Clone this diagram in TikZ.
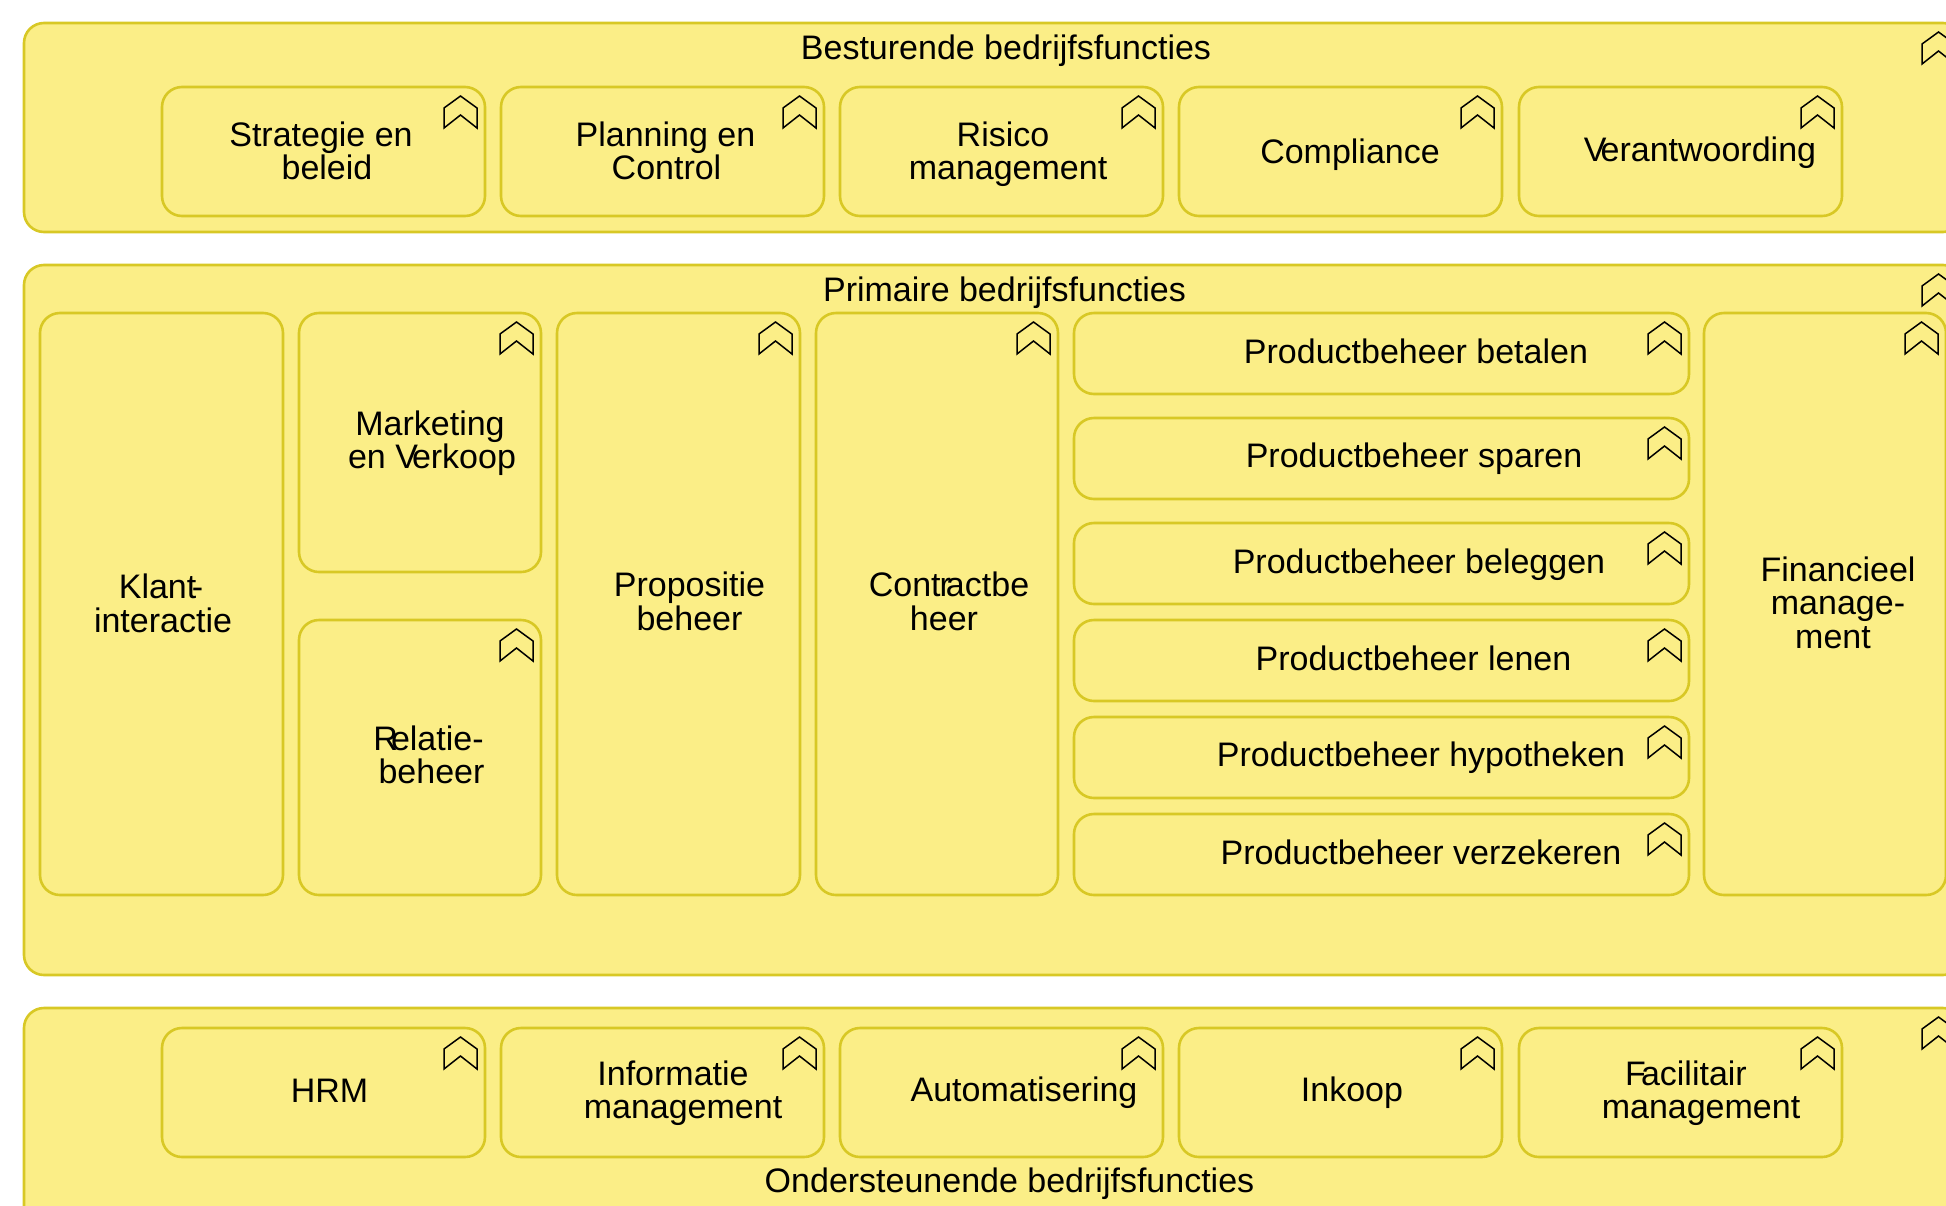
\documentclass[tikz,border=0pt]{standalone}
\usepackage{fontspec}
\setmainfont{Liberation Sans}
\definecolor{funcfill}{HTML}{FBEE87}
\definecolor{funcline}{HTML}{D8C825}
\tikzset{
  x=1pt,y=-1pt,
  funcbox/.style={draw=funcline,fill=funcfill,line width=2.6pt,rounded corners=20pt,inner sep=0pt,outer sep=0pt},
  chev/.style={draw=black,line width=1.5pt,line join=miter,fill=none},
  lab/.style={anchor=north,inner sep=0pt,outer sep=0pt,align=center,font=\fontsize{34}{33.5}\selectfont,text=black}
}
% name, left, top, right, bottom
\newcommand\fbare[5]{%
  \node[funcbox,minimum width=#4pt-#2pt,minimum height=#5pt-#3pt] (#1) at ({(#2+#4)/2},{(#3+#5)/2}) {};
}
\newcommand\fbx[5]{%
  \fbare{#1}{#2}{#3}{#4}{#5}
  \draw[chev] ([shift={(-41,41)}]#1.north east) -- ([shift={(-41,21)}]#1.north east) -- ([shift={(-24.5,9)}]#1.north east) -- ([shift={(-8,21)}]#1.north east) -- ([shift={(-8,41)}]#1.north east) -- ([shift={(-24.5,28)}]#1.north east) -- cycle;
}
% name, x centre of first line, baseline of first line, text
\newcommand\lbl[4]{\node[lab] (#1) at (#2,#3-26) {#4};}
\newcommand\ls[1]{\rule[-7.5pt]{0pt}{33.5pt}\hspace*{#1pt}}
\begin{document}
\begin{tikzpicture}
\useasboundingbox (0,0) rectangle (1946,1205);
\clip (0,0) rectangle (1946,1205);
% containers
\fbx{besturend}{24}{23}{1963}{232}
\fbx{primair}{24}{265}{1963}{975}
\fbx{onder}{24}{1008}{1963}{1260}
% top row
\fbx{strategie}{162}{87}{485}{216}
\fbx{planning}{501}{87}{824}{216}
\fbx{risico}{840}{87}{1163}{216}
\fbx{compl}{1179}{87}{1502}{216}
\fbx{verant}{1519}{87}{1842}{216}
% middle
\fbare{klant}{40}{313}{283}{895}
\fbx{marketing}{299}{313}{541}{572}
\fbx{relatie}{299}{620}{541}{895}
\fbx{propositie}{557}{313}{800}{895}
\fbx{contract}{816}{313}{1058}{895}
\fbx{pbet}{1074}{313}{1689}{394}
\fbx{pspa}{1074}{418}{1689}{499}
\fbx{pbel}{1074}{523}{1689}{604}
\fbx{plen}{1074}{620}{1689}{701}
\fbx{phyp}{1074}{717}{1689}{798}
\fbx{pver}{1074}{814}{1689}{895}
\fbx{fin}{1704}{313}{1946}{895}
% bottom row
\fbx{hrm}{162}{1028}{485}{1157}
\fbx{info}{501}{1028}{824}{1157}
\fbx{auto}{840}{1028}{1163}{1157}
\fbx{inkoop}{1179}{1028}{1502}{1157}
\fbx{facil}{1519}{1028}{1842}{1157}
% labels
\lbl{tbest}{1006}{59}{\ls{0}Besturende bedrijfsfuncties}
\lbl{tprim}{1004.5}{301}{\ls{0}Primaire bedrijfsfuncties}
\lbl{tond}{1009.5}{1192}{\ls{0}Ondersteunende bedrijfsfuncties}
\lbl{tstr}{321}{146}{\ls{0}Strategie en\\\ls{12}beleid}
\lbl{tpla}{665.5}{146}{\ls{0}Planning en\\\ls{2}Control}
\lbl{tris}{1003}{146}{\ls{0}Risico\\\ls{10}management}
\lbl{tcom}{1350}{163}{\ls{0}Compliance}
\lbl{tver}{1700}{161}{\ls{0}V\kern-6pt erantwoording}
\lbl{tkla}{161}{598.5}{\ls{0}Klant\kern-4.5pt -\\\ls{4}interactie}
\lbl{tmar}{430}{435}{\ls{0}Marketing\\\ls{4}en V\kern-6pt erkoop}
\lbl{trel}{428.5}{750}{\ls{0}R\kern-7pt elatie-\\\ls{6}beheer}
\lbl{tpro}{689.5}{596.5}{\ls{0}Propositie\\\ls{0}beheer}
\lbl{tcon}{949}{596.5}{\ls{0}Cont\kern-1pt r\kern-5pt actbe\\\ls{-10}heer}
\lbl{tbet}{1416}{363}{\ls{0}Productbeheer betalen}
\lbl{tspa}{1414}{467}{\ls{0}Productbeheer sparen}
\lbl{tbel}{1419}{573}{\ls{0}Productbeheer beleggen}
\lbl{tlen}{1413.5}{670}{\ls{0}Productbeheer lenen}
\lbl{thyp}{1421}{766}{\ls{0}Productbeheer hypotheken}
\lbl{tvez}{1421}{864}{\ls{0}Productbeheer verzekeren}
\lbl{tfin}{1838}{581}{\ls{0}Financieel\\\ls{0}manage-\\\ls{-10}ment}
\lbl{thrm}{329.5}{1102}{\ls{0}HRM}
\lbl{tinf}{673}{1085}{\ls{0}Informatie\\\ls{20}management}
\lbl{taut}{1024}{1101.5}{\ls{0}Automatisering}
\lbl{tink}{1352}{1101.5}{\ls{0}Inkoop}
\lbl{tfac}{1686}{1085}{\ls{0}F\kern-5pt acilitair\\\ls{30}management}
\end{tikzpicture}
\end{document}
